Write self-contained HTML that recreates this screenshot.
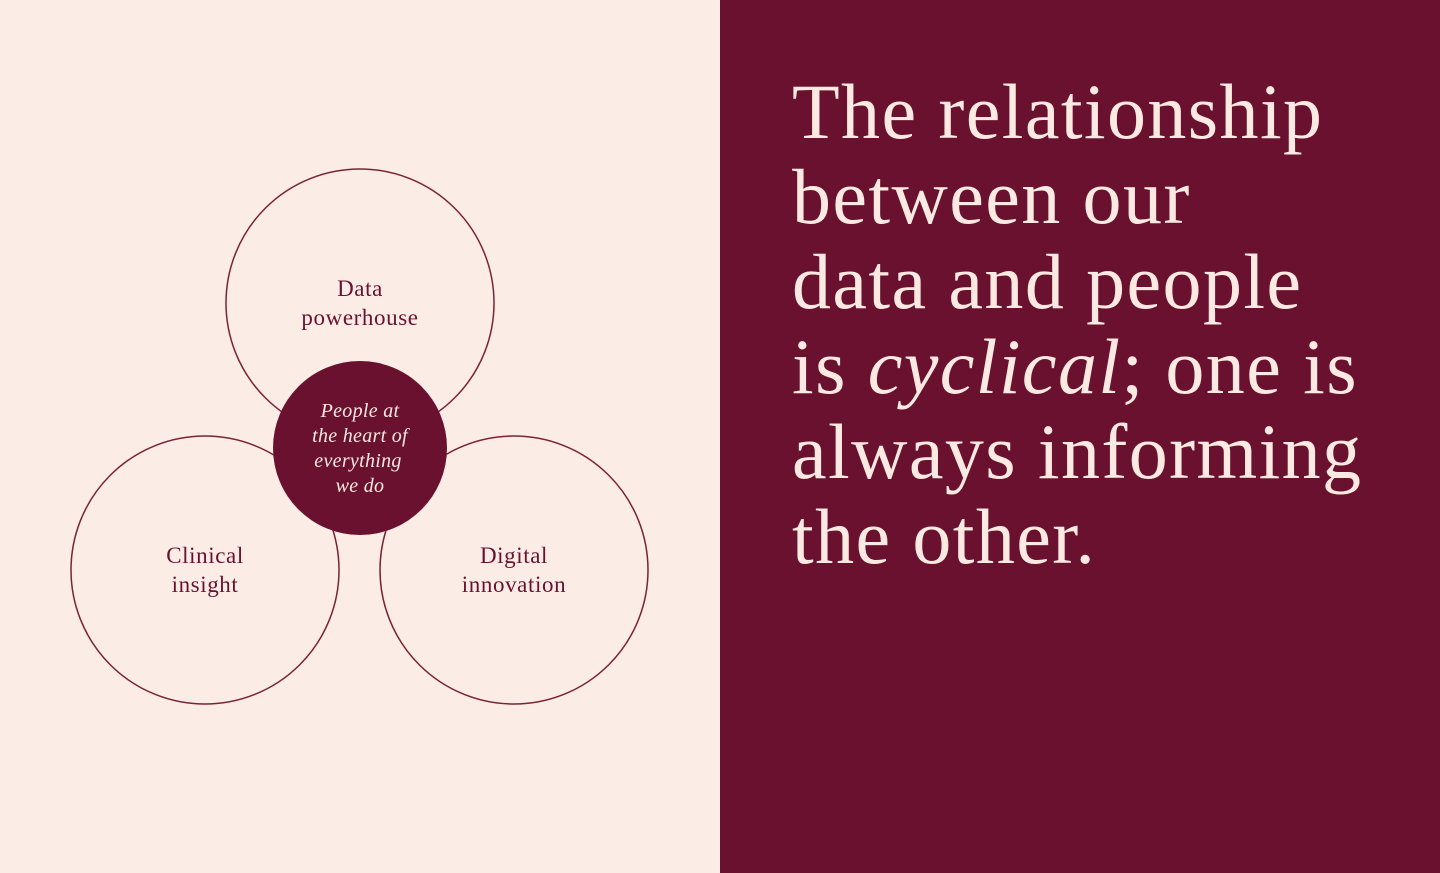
<!DOCTYPE html>
<html><head><meta charset="utf-8"><style>
html,body{margin:0;padding:0;width:1440px;height:873px;overflow:hidden}
body{position:relative;background:#fcece6;font-family:"Liberation Serif",serif}
#r{position:absolute;left:720px;top:0;width:720px;height:873px;background:#6a1130}
#t{position:absolute;left:792px;top:69px;color:#fbe9e2;font-size:78px;line-height:85px;letter-spacing:1.4px;white-space:nowrap}
svg{position:absolute;left:0;top:0}
</style></head><body>
<div id="r"></div>
<div id="t">The relationship<br>between our<br>data and people<br>is <i>cyclical</i>; one is<br>always informing<br>the other.</div>
<svg width="720" height="873" font-family="Liberation Serif, serif">
<g fill="none" stroke="#7a2238" stroke-width="1.5">
<circle cx="360" cy="303" r="134"/>
<circle cx="205" cy="570" r="134"/>
<circle cx="514" cy="570" r="134"/>
</g>
<circle cx="360" cy="448" r="87" fill="#6a1130"/>
<g fill="#6a1130" font-size="23" text-anchor="middle" letter-spacing="0.6">
<text x="360" y="296">Data</text>
<text x="360" y="325">powerhouse</text>
<text x="205" y="563">Clinical</text>
<text x="205" y="592">insight</text>
<text x="514" y="563">Digital</text>
<text x="514" y="592">innovation</text>
</g>
<g fill="#fbe9e2" font-size="20" font-style="italic" text-anchor="middle" letter-spacing="0.3">
<text x="360" y="417">People at</text>
<text x="360" y="442">the heart of</text>
<text x="358" y="467">everything</text>
<text x="360" y="492">we do</text>
</g>
</svg>
</body></html>
